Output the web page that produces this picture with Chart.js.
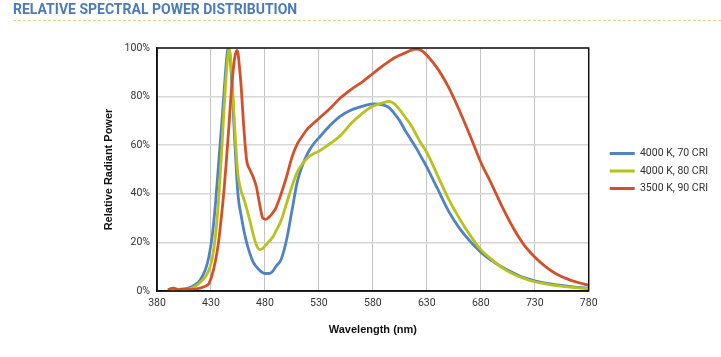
<!DOCTYPE html>
<html>
<head>
<meta charset="utf-8">
<script src="https://cdn.jsdelivr.net/npm/chart.js@4.4.1/dist/chart.umd.min.js"></script>
<style>
  html, body { margin: 0; padding: 0; background: #fff; }
  #wrap { position: relative; width: 721px; height: 357px; overflow: hidden; }
  #title {
    position: absolute; left: 13px; top: 1px; right: 0;
    font-family: Roboto, "Liberation Sans", sans-serif; font-weight: 700; font-size: 14px;
    color: #4b7bbb; letter-spacing: 0; padding-bottom: 3px;
    border-bottom: 1px dashed #f2d37a; line-height: 16px;
  }
  canvas { position: absolute; left: 0; top: 0; }
</style>
</head>
<body>
<div id="wrap">
  <canvas id="c" width="721" height="357"></canvas>
  <div id="title">RELATIVE SPECTRAL POWER DISTRIBUTION</div>
</div>
<script>
// Wavelength samples (nm)
const wavelengths = [390,395,400,405,410,415,420,425,428,431,434,437,440,442,444,446,447,448,450,452,454,455,456,458,460,463,466,469,472,475,478,481,484,487,490,495,500,505,510,515,520,525,530,540,550,560,570,580,590,595,600,605,610,615,620,625,630,640,650,660,670,680,690,700,710,720,730,740,750,760,770,780];

// Relative radiant power (%)
const cri70 = [0,0.1,0.3,0.7,1.3,2.5,4.5,9,14,22,35,52,69,81,93,100,99,95,80,62,46,40,36,31,26,20,15.5,12,10,8.5,7.5,7.2,7.2,8,10,13,21,33,45,52,57,60.5,63,68,72,74.5,76,77,76.5,75.5,73,70,66,62.5,59,55,51,42,33,26,20.5,16,12.5,9.8,7.5,5.5,4.2,3.2,2.5,2,1.5,1.2];
const cri80 = [0,0.1,0.2,0.4,0.8,1.8,3.5,6,8.5,13,22,37,58,74,88,98,100,97,84,67,53,48,45,41,38.5,34,29,23.5,19,17,17.5,19,20.5,22,24.5,29,36,43,49,52.5,55,56.5,57.5,60.5,64,69,73,76,77.5,78,77,74.5,71.5,68.5,64.5,60.5,57,47.5,38,30,23,17,13,9.5,7,5.2,3.8,2.9,2.2,1.7,1.3,1.0];
const cri90 = [0.5,1.2,0.6,0.9,0.6,0.8,1.2,2,3,6.5,12,20,32,41,52,64,70,77,88,96,99,98,94,84,70,54,50,47,43,36,30,29.5,30.5,32,34,40,47,55,60.5,64,67,69,71,75,79.5,83,86,89.5,93,94.5,96,97,98,99,99.5,99,97,91.5,84,74.5,64,53,44,34.5,26,19,14,10,7,5,3.5,2.3];

const seriesNames = ['4000 K, 70 CRI', '4000 K, 80 CRI', '3500 K, 90 CRI'];
const seriesColors = ['#5182c3', '#b7c21c', '#d4502a'];
const xTicks = [380,430,480,530,580,630,680,730,780];
const yTicks = [0,20,40,60,80,100];

const pts = arr => wavelengths.map((w, i) => ({x: w, y: arr[i]}));
const allSeries = [cri70, cri80, cri90];

const frame = {
  id: 'frame',
  afterLayout(chart) {
    // nudge legend items right (away from plot frame) and up (aligned with plot centre)
    const lg = chart.legend;
    if (lg) { lg.left += 14; lg.right += 14; lg.top -= 24; lg.bottom -= 24; }
  },
  afterDatasetsDraw(chart) {
    const a = chart.chartArea, ctx = chart.ctx;
    ctx.save();
    ctx.strokeStyle = '#111';
    ctx.lineWidth = 1.5;
    ctx.strokeRect(a.left, a.top, a.right - a.left, a.bottom - a.top);
    ctx.restore();
  }
};

new Chart(document.getElementById('c'), {
  type: 'line',
  data: {
    datasets: allSeries.map((s, i) => ({
      label: seriesNames[i],
      data: pts(s),
      borderColor: seriesColors[i],
      backgroundColor: seriesColors[i],
      borderWidth: 2.8,
      pointRadius: 0,
      cubicInterpolationMode: 'monotone',
      order: 2 - i
    }))
  },
  options: {
    responsive: false,
    animation: false,
    layout: { padding: { left: 100, right: 17, top: 48, bottom: 15 } },
    plugins: {
      tooltip: { enabled: false },
      legend: {
        position: 'right',
        align: 'center',
        labels: {
          boxWidth: 25, boxHeight: 3, padding: 7,
          color: '#333',
          font: { family: 'Roboto, "Liberation Sans", sans-serif', size: 10.5 },
          sort: (a, b) => a.datasetIndex - b.datasetIndex,
          generateLabels: chart => {
            const items = Chart.defaults.plugins.legend.labels.generateLabels(chart);
            items.forEach(it => { it.lineWidth = 0; it.strokeStyle = it.fillStyle; });
            return items;
          }
        }
      }
    },
    scales: {
      x: {
        type: 'linear', min: 380, max: 780,
        afterBuildTicks: s => { s.ticks = xTicks.map(v => ({value: v})); },
        afterFit: s => { s.height = 51; },
        grid: { color: '#c4c4c4', lineWidth: 1, drawTicks: false },
        border: { color: '#111', width: 1.5 },
        ticks: { padding: 6, color: '#333', maxRotation: 0,
          font: { family: 'Roboto, "Liberation Sans", sans-serif', size: 10.5 } },
        title: { display: true, text: 'Wavelength (nm)', color: '#111',
          padding: { top: 0, bottom: 5 },
          font: { family: '"Liberation Sans", Arial, sans-serif', size: 11, weight: 'bold' } }
      },
      y: {
        min: 0, max: 100,
        afterBuildTicks: s => { s.ticks = yTicks.map(v => ({value: v})); },
        afterFit: s => { s.width = 57; },
        grid: { color: '#d6d6d6', lineWidth: 1.5, drawTicks: false },
        border: { color: '#111', width: 1.5 },
        ticks: { padding: 7, color: '#333', callback: v => v + '%',
          font: { family: 'Roboto, "Liberation Sans", sans-serif', size: 10.5 } },
        title: { display: true, text: 'Relative Radiant Power', color: '#111',
          padding: { top: 2, bottom: 0 },
          font: { family: '"Liberation Sans", Arial, sans-serif', size: 11, weight: 'bold' } }
      }
    }
  },
  plugins: [frame]
});
</script>
</body>
</html>
